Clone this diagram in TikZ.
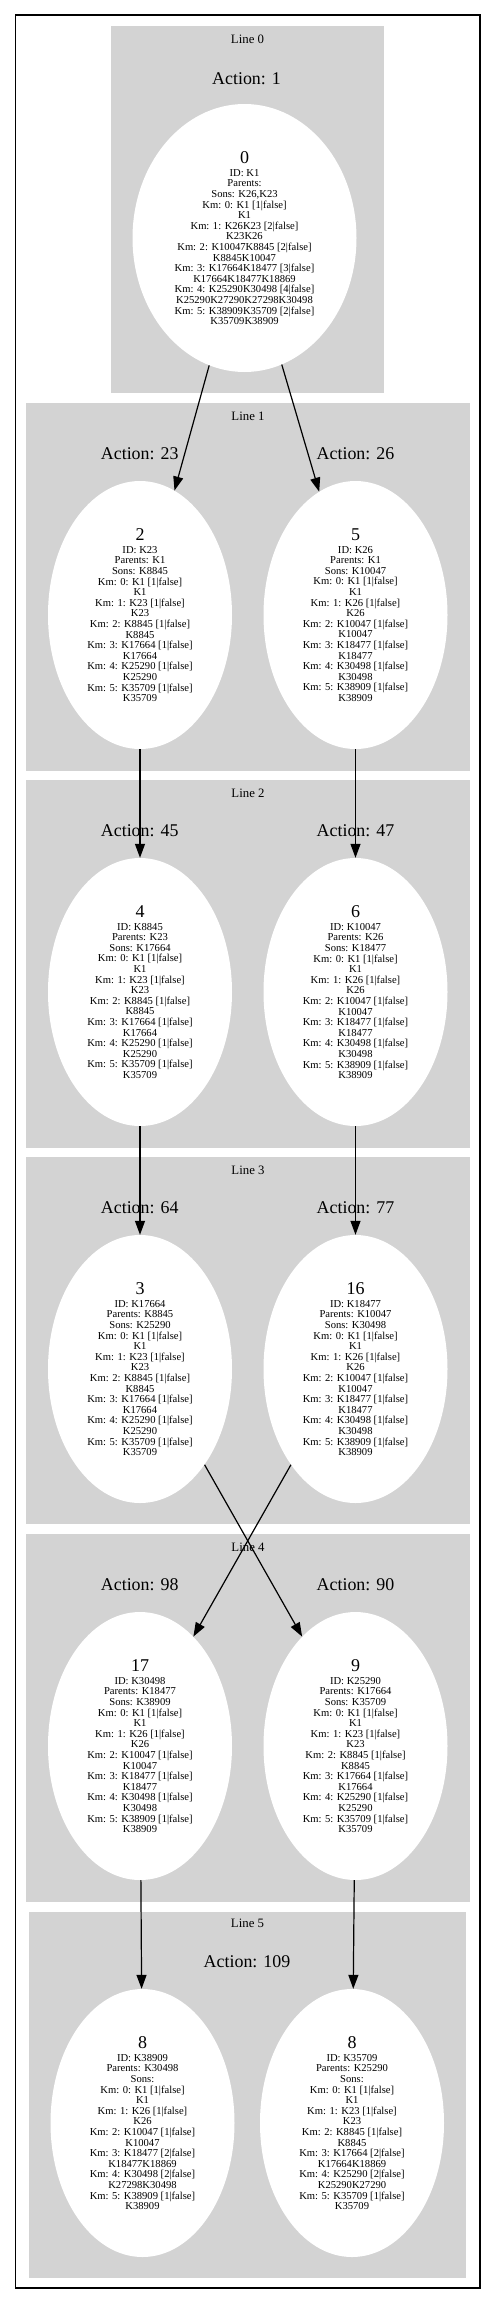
\documentclass[tikz,border=0pt]{standalone}
\usepackage{fontspec}
\setmainfont{Liberation Serif}
\usetikzlibrary{arrows.meta,shapes.geometric}

\definecolor{clustergray}{HTML}{D3D3D3}

\newcommand\nodehead[1]{{\fontsize{18}{18}\selectfont #1}\\[2.4pt]}
\newcommand\kmleft{Km: 0: K1 [1|false]\\K1\\Km: 1: K23 [1|false]\\K23\\Km: 2: K8845 [1|false]\\K8845\\Km: 3: K17664 [1|false]\\K17664\\Km: 4: K25290 [1|false]\\K25290\\Km: 5: K35709 [1|false]\\K35709}
\newcommand\kmright{Km: 0: K1 [1|false]\\K1\\Km: 1: K26 [1|false]\\K26\\Km: 2: K10047 [1|false]\\K10047\\Km: 3: K18477 [1|false]\\K18477\\Km: 4: K30498 [1|false]\\K30498\\Km: 5: K38909 [1|false]\\K38909}

\begin{document}
\begin{tikzpicture}[x=1pt, y=-1pt,
    state/.style={ellipse, fill=white, minimum width=184pt, minimum height=268pt, inner sep=0pt, align=center, font=\fontsize{10.6}{10.6}\selectfont},
    cluster/.style={fill=clustergray},
    linelbl/.style={font=\fontsize{12.8}{12.8}\selectfont},
    actlbl/.style={font=\fontsize{17.9}{18}\selectfont},
    arr/.style={-{Triangle[length=14pt, width=10pt]}, line width=1.2pt}]
    \useasboundingbox (0,0) rectangle (496,2305);
    \draw[line width=1.3pt] (15.7,15) rectangle (480,2288);
    % clusters
    \fill[cluster] (111,26) rectangle (384,393);
    \foreach \top/\bot in {403/771, 780/1148, 1157/1524, 1534/1902}
      \fill[cluster] (26,\top) rectangle (470,\bot);
    \fill[cluster] (29,1912) rectangle (466,2278);
    \node[linelbl] (line0) at (247.5,39) {Line 0};
    \node[linelbl] (line1) at (248,416) {Line 1};
    \node[linelbl] (line2) at (248,793) {Line 2};
    \node[linelbl] (line3) at (248,1170) {Line 3};
    \node[linelbl] (line4) at (248,1547) {Line 4};
    \node[linelbl] (line5) at (247.5,1923) {Line 5};
    % actions
    \node[actlbl] (act1) at (246.5,78.5) {Action: 1};
    \node[actlbl] (act23) at (139.7,454) {Action: 23};
    \node[actlbl] (act26) at (355.5,454) {Action: 26};
    \node[actlbl] (act45) at (139.7,831) {Action: 45};
    \node[actlbl] (act47) at (355.5,831) {Action: 47};
    \node[actlbl] (act64) at (139.7,1208) {Action: 64};
    \node[actlbl] (act77) at (355.5,1208) {Action: 77};
    \node[actlbl] (act98) at (139.7,1585) {Action: 98};
    \node[actlbl] (act90) at (355.5,1585) {Action: 90};
    \node[actlbl] (act109) at (247,1962) {Action: 109};
    % states
    \node[state, minimum width=224pt] (s0) at (244.5,238) {\nodehead{0}ID: K1\\Parents:\\Sons: K26,K23\\Km: 0: K1 [1|false]\\K1\\Km: 1: K26K23 [2|false]\\K23K26\\Km: 2: K10047K8845 [2|false]\\K8845K10047\\Km: 3: K17664K18477 [3|false]\\K17664K18477K18869\\Km: 4: K25290K30498 [4|false]\\K25290K27290K27298K30498\\Km: 5: K38909K35709 [2|false]\\K35709K38909};
    \node[state] (s2) at (140,615) {\nodehead{2}ID: K23\\Parents: K1\\Sons: K8845\\\kmleft};
    \node[state] (s5) at (355.5,615) {\nodehead{5}ID: K26\\Parents: K1\\Sons: K10047\\\kmright};
    \node[state] (s4) at (140,992) {\nodehead{4}ID: K8845\\Parents: K23\\Sons: K17664\\\kmleft};
    \node[state] (s6) at (355.5,992) {\nodehead{6}ID: K10047\\Parents: K26\\Sons: K18477\\\kmright};
    \node[state] (s3) at (140,1369) {\nodehead{3}ID: K17664\\Parents: K8845\\Sons: K25290\\\kmleft};
    \node[state] (s16) at (355.5,1369) {\nodehead{16}ID: K18477\\Parents: K10047\\Sons: K30498\\\kmright};
    \node[state] (s17) at (140,1746) {\nodehead{17}ID: K30498\\Parents: K18477\\Sons: K38909\\\kmright};
    \node[state] (s9) at (355.5,1746) {\nodehead{9}ID: K25290\\Parents: K17664\\Sons: K35709\\\kmleft};
    \node[state] (s8a) at (142.5,2123) {\nodehead{8}ID: K38909\\Parents: K30498\\Sons:\\Km: 0: K1 [1|false]\\K1\\Km: 1: K26 [1|false]\\K26\\Km: 2: K10047 [1|false]\\K10047\\Km: 3: K18477 [2|false]\\K18477K18869\\Km: 4: K30498 [2|false]\\K27298K30498\\Km: 5: K38909 [1|false]\\K38909};
    \node[state] (s8b) at (352,2123) {\nodehead{8}ID: K35709\\Parents: K25290\\Sons:\\Km: 0: K1 [1|false]\\K1\\Km: 1: K23 [1|false]\\K23\\Km: 2: K8845 [1|false]\\K8845\\Km: 3: K17664 [2|false]\\K17664K18869\\Km: 4: K25290 [2|false]\\K25290K27290\\Km: 5: K35709 [1|false]\\K35709};
    % edges
    \draw[arr] (s0) -- (s2);
    \draw[arr] (s0) -- (s5);
    \draw[arr] (s2) -- (s4);
    \draw[arr] (s5) -- (s6);
    \draw[arr] (s4) -- (s3);
    \draw[arr] (s6) -- (s16);
    \draw[arr] (s3.-56) -- (s9.116);
    \draw[arr] (s16.-124) -- (s17.64);
    \draw[arr] (s17) -- (s8a);
    \draw[arr] (s9) -- (s8b);
\end{tikzpicture}
\end{document}
